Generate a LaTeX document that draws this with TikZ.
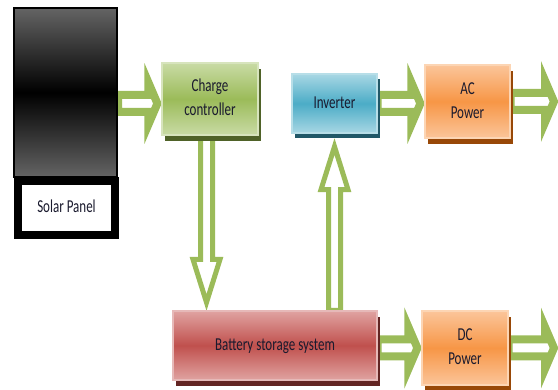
\documentclass[tikz,border=0pt]{standalone}
\usepackage{fontspec}
\setmainfont{Carlito}
\usepackage{graphicx}
\usetikzlibrary{positioning, calc, shadows, backgrounds}

\definecolor{arrowgreen}{HTML}{9BBB59}
\definecolor{greentop}{HTML}{C9DBA5}
\definecolor{greenmid}{HTML}{9BBB59}
\definecolor{greenline}{HTML}{D7E4BD}
\definecolor{greenshadow}{HTML}{4F6228}
\definecolor{bluetop}{HTML}{A8D7E4}
\definecolor{bluemid}{HTML}{4BACC6}
\definecolor{blueline}{HTML}{B7DEE8}
\definecolor{blueshadow}{HTML}{215868}
\definecolor{orangetop}{HTML}{FBC59A}
\definecolor{orangemid}{HTML}{F79646}
\definecolor{orangeline}{HTML}{FCD5B4}
\definecolor{orangeshadow}{HTML}{984807}
\definecolor{redtop}{HTML}{E0A3A1}
\definecolor{redmid}{HTML}{C0504D}
\definecolor{redline}{HTML}{E6B9B8}
\definecolor{redshadow}{HTML}{632523}
\definecolor{panelgray}{HTML}{646464}
\definecolor{labeltext}{HTML}{1A1A2E}

\newcommand\boxtext[1]{\scalebox{1}[1.4]{\begin{tabular}{@{}c@{}}#1\end{tabular}}}

\tikzset{
	shaftw/.store in=\shaftw, headw/.store in=\headw, headl/.store in=\headl, tipoff/.store in=\tipoff,
	hollow/.style={draw=arrowgreen, fill=white, line join=miter,
		to path={($(\tikztotarget)!\tipoff!(\tikztostart)$) coordinate (tp)
			($(tp)!\headl!(\tikztostart)$) coordinate (hb)
			($(\tikztostart)!\shaftw!90:(tp)$) -- ($(hb)!\shaftw!90:(tp)$) -- ($(hb)!\headw!90:(tp)$) -- (tp)
			-- ($(hb)!\headw!-90:(tp)$) -- ($(hb)!\shaftw!-90:(tp)$) -- ($(\tikztostart)!\shaftw!-90:(tp)$) -- cycle}}
}

\begin{document}
\begin{tikzpicture}[x=1pt, y=-1pt, font=\fontsize{13}{17}\selectfont, text=labeltext,
	g/.style={draw=greenline, line width=1.2pt, top color=greentop, bottom color=greentop, middle color=greenmid, general shadow={fill=greenshadow, shadow xshift=3pt, shadow yshift=-6pt}},
	bl/.style={draw=blueline, line width=1.2pt, top color=bluetop, bottom color=bluetop, middle color=bluemid, general shadow={fill=blueshadow, shadow xshift=3pt, shadow yshift=-5pt}},
	o/.style={draw=orangeline, line width=1.2pt, top color=orangetop, bottom color=orangetop, middle color=orangemid, general shadow={fill=orangeshadow, shadow xshift=3pt, shadow yshift=-6pt}},
	r/.style={draw=redline, line width=1.2pt, top color=redtop, bottom color=redtop, middle color=redmid, general shadow={fill=redshadow, shadow xshift=3pt, shadow yshift=-6pt}},
	pnl/.style={draw=black, line width=2pt, top color=panelgray, bottom color=panelgray, middle color=black},
	lbl/.style={draw=black, line width=8pt, fill=white},
	ha/.style={hollow, line width=8pt, shaftw=8.5pt, headw=21pt, headl=9pt, tipoff=4pt},
	va/.style={hollow, line width=5pt, shaftw=6pt, headw=13.5pt, headl=43pt, tipoff=8pt}]
	\useasboundingbox (0,0) rectangle (558,390);
	\node[pnl, minimum width=103pt, minimum height=169pt] (pv) at (65.5,92.5) {};
	\node[lbl, minimum width=97pt, minimum height=54pt] (pvlabel) at (66.5,208) {\boxtext{Solar Panel}};
	\node[g, minimum width=96pt, minimum height=72pt] (cc) at (210,99) {\boxtext{Charge\\controller}};
	\node[bl, minimum width=85pt, minimum height=59pt] (inv) at (334.5,103.5) {\boxtext{Inverter}};
	\node[o, minimum width=85pt, minimum height=73pt] (ac) at (467.5,101.5) {\boxtext{AC\\Power}};
	\node[r, minimum width=204pt, minimum height=69pt] (bat) at (275,345.5) {\boxtext{Battery storage system}};
	\node[o, minimum width=86pt, minimum height=74pt] (dc) at (465,348) {\boxtext{DC\\Power}};
	\coordinate (dn) at ([xshift=-3.5pt]cc.south);
	\coordinate (acend) at (ac.east -| 558,0);
	\coordinate (dcend) at (dc.east -| 558,0);
	\begin{pgfonlayer}{background}
		\draw[ha] (pv.east |- inv.east) to (cc.west |- inv.east);
		\draw[ha] (inv.east) to (ac.west |- inv.east);
		\draw[ha] (ac.east) to (acend);
		\draw[ha] (bat.east |- dc.west) to (dc.west);
		\draw[ha] (dc.east) to (dcend);
		\draw[va] (dn) to (dn |- bat.north);
		\draw[va, tipoff=13pt] (inv.south |- bat.north) to (inv.south);
	\end{pgfonlayer}
\end{tikzpicture}
\end{document}
